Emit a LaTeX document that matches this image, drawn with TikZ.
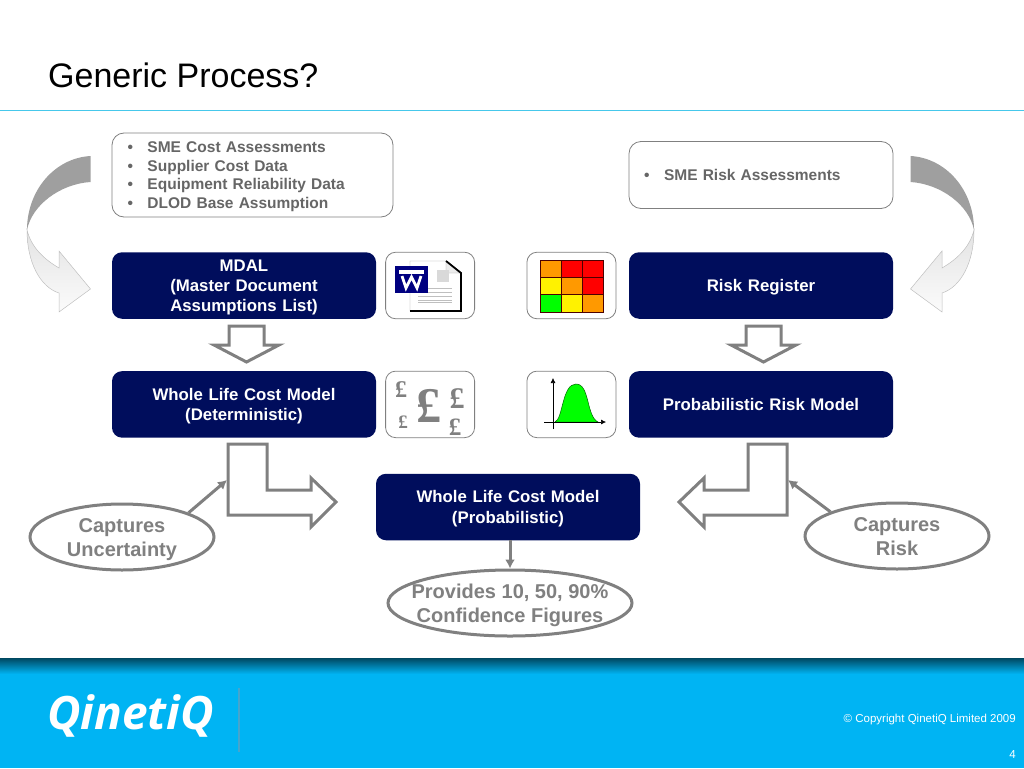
\documentclass[tikz,border=0pt]{standalone}
\usepackage{fontspec}
\setmainfont{Liberation Sans}
\newfontfamily\logofont{Open Sans}
\newfontfamily\poundfont{Liberation Serif}
\usepackage{xcolor}
\usetikzlibrary{positioning,arrows.meta,shapes.geometric}
\definecolor{navy}{RGB}{0,13,92}
\definecolor{midgray}{RGB}{128,128,128}
\definecolor{textgray}{RGB}{102,102,102}
\definecolor{skyblue}{RGB}{0,180,243}
\definecolor{rulecyan}{RGB}{70,200,235}
\definecolor{riskorange}{RGB}{255,153,0}
\definecolor{wordblue}{RGB}{0,0,128}
\definecolor{dividerblue}{RGB}{70,165,205}
\tikzset{
  inbox/.style={rectangle, rounded corners=12pt, draw=midgray, line width=.8pt, fill=white, text=textgray, inner sep=0pt,
    minimum height=67pt, align=left, font=\fontsize{15.5}{18.7}\selectfont\bfseries,
    execute at begin node={\rule{0pt}{15.2pt}}, execute at end node={\rule[-4pt]{0pt}{4pt}}},
  stagebox/.style={rectangle, rounded corners=10pt, fill=navy, text=white, inner sep=0pt, minimum width=264pt,
    minimum height=66.5pt, text width=250pt, align=center, font=\fontsize{16.8}{20.3}\selectfont\bfseries,
    execute at begin node={\rule{0pt}{16pt}}, execute at end node={\rule[-4pt]{0pt}{4pt}}},
  iconbox/.style={rectangle, rounded corners=10pt, draw=midgray, line width=.8pt, fill=white, inner sep=0pt, minimum width=89pt,
    minimum height=66.5pt},
  note/.style={ellipse, draw=midgray, line width=3pt, fill=white, inner sep=0pt, minimum height=66pt},
  notetext/.style={text=midgray, inner sep=0pt, align=center, yshift=-3pt, font=\fontsize{20}{23.7}\selectfont\bfseries,
    execute at begin node={\rule{0pt}{19.4pt}}, execute at end node={\rule[-5pt]{0pt}{5pt}}},
  block/.style={draw=midgray, line width=3pt, fill=white},
  link/.style={draw=midgray, line width=3pt, -{Latex[length=9pt,width=10pt]}},
  pound/.style={text=midgray, inner sep=0pt}
}
\newcommand{\bul}{\makebox[20pt][l]{\textbullet}}
% curved feed arrow, left hand version
\newcommand{\feedarrow}{%
  \fill[gray!75] (90.5,156) .. controls (55,158) and (27,190) .. (27,230)
     .. controls (32,205) and (60,184) .. (90.5,182) -- cycle;
  \draw[gray!50, line width=.5pt, top color=gray!22, bottom color=gray!3]
     (27,230) .. controls (27,262) and (40,287) .. (59,293) -- (59,312) -- (90.5,289) -- (59,251)
     -- (59,268) .. controls (42,258) and (31,246) .. (27,230) -- cycle;
}
\begin{document}
\begin{tikzpicture}[x=1pt,y=-1pt]
  \useasboundingbox (0,0) rectangle (1024,768);
  % title and footer
  \node[anchor=base west, inner sep=0pt, font=\fontsize{34}{36}\selectfont] (title) at (48,87) {Generic Process?};
  \draw[rulecyan, line width=1pt] (0,110) -- (1024,110);
  \shade[top color=black!60!skyblue, bottom color=skyblue] (0,658) rectangle (1024,674);
  \fill[skyblue] (0,674) rectangle (1024,768);
  \node[anchor=base west, inner sep=0pt, text=white, font=\fontsize{46}{48}\selectfont\logofont\bfseries\itshape] (logo) at (47,729) {QinetiQ};
  \draw[dividerblue, line width=1.5pt] (239,688) -- (239,752);
  \node[anchor=east, inner sep=0pt, text=white, font=\fontsize{11.5}{13}\selectfont] (copy) at (1016,719.5) {© Copyright QinetiQ Limited 2009};
  \node[anchor=east, inner sep=0pt, text=white, font=\fontsize{11.5}{13}\selectfont] (page) at (1016,755) {4};

  % inputs
  \node[inbox, minimum width=281pt, minimum height=84pt, text width=250pt] (costin) at (252.5,175) {\bul SME Cost Assessments\\\bul Supplier Cost Data\\\bul Equipment Reliability Data\\\bul DLOD Base Assumption};
  \node[inbox, minimum width=264pt, text width=234pt] (riskin) at (761,175) {\bul SME Risk Assessments};

  % main boxes
  \node[stagebox] (mdal) at (244,285.5) {MDAL\\(Master Document\\Assumptions List)};
  \node[stagebox] (riskreg) at (761,285.5) {Risk Register};
  \node[stagebox, below=52pt of mdal] (wlcdet) {Whole Life Cost Model\\(Deterministic)};
  \node[stagebox, below=52pt of riskreg] (probrisk) {Probabilistic Risk Model};
  \node[stagebox] (wlcprob) at (508,507) {Whole Life Cost Model\\(Probabilistic)};

  % icon boxes
  \node[iconbox, right=9pt of mdal] (wordicon) {};
  \node[iconbox, right=9pt of wlcdet] (poundicon) {};
  \node[iconbox, left=12.5pt of riskreg] (gridicon) {};
  \node[iconbox, left=12.5pt of probrisk] (bellicon) {};

  % word document
  \draw[gray!70, fill=white] (410,261) -- (446,261) -- (461,273) -- (461,311) -- (410,311) -- cycle;
  \draw[gray!70, fill=gray!15] (446,261) -- (446,273) -- (461,273) -- cycle;
  \draw[black, line width=1.8pt] (446,261) -- (461,273) -- (461,311) -- (410,311);
  \fill[gray!30] (437,270) rectangle (449,282);
  \foreach \ypos/\xend in {288/452,292/452,296/452,300/452,302/452,302/440}
    \draw[gray!50, line width=1pt] (418,\ypos) -- (\xend,\ypos);
  \fill[wordblue] (395,266) rectangle (428,293);
  \fill[white] (399,270) rectangle (424,274);
  \draw[white, line width=2.8pt] (402,276) -- (406,288) -- (411.5,277) -- (417,288) -- (421,276);

  % risk matrix
  \foreach \xcol/\ycol/\cellcol in {0/0/riskorange,1/0/red,2/0/red,0/1/yellow,1/1/riskorange,2/1/red,0/2/green,1/2/yellow,2/2/riskorange}
    \draw[black!70!red, fill=\cellcol, line width=.7pt] (540+\xcol*21,260+\ycol*17.33) rectangle +(21,17.33);

  % pounds
  \node[pound, font=\fontsize{50}{50}\selectfont\poundfont\bfseries] (p1) at (429,406) {£};
  \node[pound, font=\fontsize{24}{24}\selectfont\poundfont\bfseries] (p2) at (401,390) {£};
  \node[pound, font=\fontsize{19}{19}\selectfont\poundfont\bfseries] (p3) at (403,422) {£};
  \node[pound, font=\fontsize{30}{30}\selectfont\poundfont\bfseries] (p4) at (457,399) {£};
  \node[pound, font=\fontsize{25}{25}\selectfont\poundfont\bfseries] (p5) at (455,427) {£};

  % bell curve
  \fill[green, draw=black!60!green, line width=.5pt] (555,422) .. controls (563,419) and (562,384) .. (576,384)
     .. controls (590,384) and (586,416) .. (598,422) -- cycle;
  \draw[-{Latex[length=5pt,width=5pt]}, line width=.6pt] (553,429) -- (553,378);
  \draw[-{Latex[length=5pt,width=5pt]}, line width=.6pt] (544,422) -- (606,422);

  % block arrows
  \draw[block] (229,326) -- (264,326) -- (264,345) -- (279,345) -- (246.5,362) -- (214,345) -- (229,345) -- cycle;
  \draw[block] (746,326) -- (781,326) -- (781,345) -- (796,345) -- (763.5,362) -- (731,345) -- (746,345) -- cycle;
  \draw[block] (228,444) -- (267,444) -- (267,490) -- (311,490) -- (311,478) -- (336,502) -- (311,527) -- (311,515) -- (228,515) -- cycle;
  \draw[block] (787,444) -- (748,444) -- (748,490) -- (704,490) -- (704,478) -- (679,502) -- (704,527) -- (704,515) -- (787,515) -- cycle;

  % curved arrows
  \feedarrow
  \begin{scope}[xshift=1001pt,xscale=-1]
    \feedarrow
  \end{scope}

  % notes
  \node[note, minimum width=184pt] (uncert) at (122,537) {};
  \node[note, minimum width=184pt] (risk) at (897,536) {};
  \node[note, minimum width=244pt] (conf) at (510,603) {};
  \node[notetext] (uncertlabel) at (uncert) {Captures\\Uncertainty};
  \node[notetext] (risklabel) at (risk) {Captures\\Risk};
  \node[notetext] (conflabel) at (conf) {Provides 10, 50, 90\%\\Confidence Figures};
  \coordinate (uncertend) at (227,480);
  \coordinate (riskend) at (788,480);
  \draw[link] (uncert.20) -- (uncertend);
  \draw[link] (risk.160) -- (riskend);
  \draw[link] (wlcprob.south -| conf.north) -- (conf.north);
\end{tikzpicture}
\end{document}
